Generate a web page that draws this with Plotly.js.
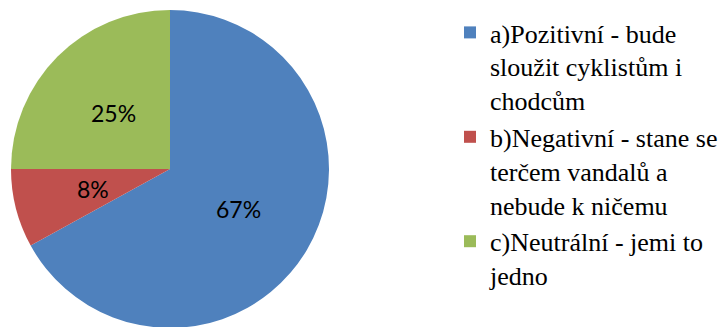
<!DOCTYPE html>
<html>
<head>
<meta charset="utf-8">
<script src="https://cdn.plot.ly/plotly-3.0.1.min.js"></script>
<style>
html,body{margin:0;padding:0;background:#fff;overflow:hidden;}
#chart{width:726px;height:329px;}
</style>
</head>
<body>
<div id="chart"></div>
<script>
var labels = [
  "a)Pozitivní - bude<br>sloužit cyklistům i<br>chodcům",
  "b)Negativní - stane se<br>terčem vandalů a<br>nebude k ničemu",
  "c)Neutrální - jemi to<br>jedno"
];
var values = [67, 8, 25];
var colors = ["#4F81BD", "#C0504D", "#9BBB59"];

var W = 726, H = 329;
// pie placement in pixels
var CX = 170, CY = 169, R = 159;
var SERIF = "Liberation Serif";

var trace = {
  type: "pie",
  labels: labels,
  values: values,
  sort: false,
  direction: "clockwise",
  rotation: 0,
  marker: {colors: colors, line: {width: 0}},
  textinfo: "none",
  hoverinfo: "none",
  domain: {x: [(CX - R) / W, (CX + R) / W], y: [(H - CY - R) / H, (H - CY + R) / H]}
};

// percentage labels placed at half radius along each slice's middle angle (Excel style)
var total = values.reduce(function (a, b) { return a + b; }, 0);
var annotations = [];
var cum = 0;
values.forEach(function (v) {
  var frac = v / total;
  var mid = (cum + frac / 2) * 2 * Math.PI;
  cum += frac;
  var px = CX + 0.5 * R * Math.sin(mid);
  var py = CY - 0.5 * R * Math.cos(mid);
  annotations.push({
    xref: "paper", yref: "paper",
    x: px / W, y: 1 - py / H,
    xanchor: "center", yanchor: "middle",
    showarrow: false,
    text: Math.round(frac * 100) + "%",
    font: {family: "Lato", size: 23, color: "#000000"}
  });
});

var layout = {
  width: W,
  height: H,
  font: {family: SERIF, size: 26, color: "#000000"},
  margin: {l: 0, r: 0, t: 0, b: 0, pad: 0},
  paper_bgcolor: "#ffffff",
  plot_bgcolor: "#ffffff",
  showlegend: true,
  annotations: annotations,
  legend: {
    x: 450 / W,
    xanchor: "left",
    y: 1 - 9 / H,
    yanchor: "top",
    valign: "top",
    font: {family: SERIF, size: 26, color: "#000000"},
    bgcolor: "rgba(0,0,0,0)",
    borderwidth: 0,
    tracegroupgap: 0
  }
};

Plotly.newPlot("chart", [trace], layout, {staticPlot: true, displayModeBar: false});
</script>
</body>
</html>
